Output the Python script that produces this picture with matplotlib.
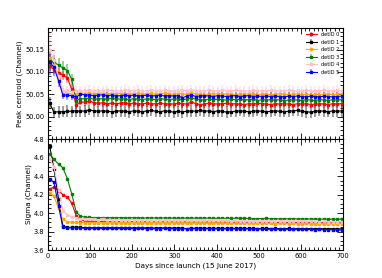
import matplotlib
matplotlib.use('Agg')
import matplotlib.pyplot as plt
from matplotlib.ticker import MultipleLocator, FixedLocator

# time axis (days since launch)
days = [4, 14, 25, 35, 46, 56, 67, 77, 88, 98,
        109, 119, 130, 140, 151, 161, 172, 182, 193, 203,
        214, 224, 235, 245, 256, 266, 277, 287, 298, 308,
        319, 329, 340, 350, 361, 371, 382, 392, 403, 413,
        424, 434, 445, 455, 466, 476, 487, 497, 508, 518,
        529, 539, 550, 560, 571, 581, 592, 602, 613, 623,
        634, 644, 655, 665, 676, 686, 697]

labels = ['detID 0', 'detID 1', 'detID 2', 'detID 3', 'detID 4', 'detID 5']
colors = ['red', 'black', 'orange', 'green', 'pink', 'blue']

# peak centroid
peak0 = [50.113,50.105,50.098,50.093,50.086,50.062,50.026,50.033,50.032,50.035,
         50.031,50.030,50.031,50.029,50.030,50.029,50.030,50.031,50.029,50.030,
         50.028,50.029,50.030,50.028,50.029,50.030,50.028,50.029,50.028,50.030,
         50.029,50.028,50.033,50.029,50.027,50.028,50.030,50.029,50.028,50.029,
         50.030,50.028,50.029,50.028,50.027,50.029,50.028,50.030,50.029,50.028,
         50.027,50.029,50.028,50.029,50.028,50.027,50.029,50.028,50.029,50.027,
         50.028,50.029,50.028,50.027,50.029,50.028,50.029]
peak1 = [50.030,50.010,50.011,50.011,50.012,50.012,50.013,50.012,50.013,50.015,
         50.013,50.012,50.013,50.012,50.011,50.012,50.013,50.012,50.011,50.013,
         50.012,50.011,50.013,50.014,50.012,50.011,50.013,50.012,50.010,50.012,
         50.011,50.012,50.013,50.012,50.014,50.012,50.013,50.011,50.013,50.012,
         50.010,50.011,50.012,50.013,50.012,50.011,50.012,50.013,50.012,50.011,
         50.012,50.013,50.012,50.011,50.012,50.013,50.014,50.012,50.011,50.010,
         50.012,50.013,50.012,50.011,50.013,50.012,50.013]
peak2 = [50.132,50.118,50.085,50.055,50.053,50.050,50.053,50.052,50.053,50.052,
         50.051,50.052,50.053,50.051,50.052,50.051,50.052,50.050,50.052,50.051,
         50.052,50.050,50.051,50.052,50.050,50.051,50.052,50.051,50.050,50.052,
         50.051,50.050,50.054,50.051,50.050,50.049,50.051,50.050,50.051,50.050,
         50.051,50.050,50.049,50.051,50.050,50.051,50.050,50.049,50.051,50.050,
         50.049,50.050,50.051,50.050,50.049,50.050,50.051,50.049,50.050,50.049,
         50.050,50.049,50.050,50.051,50.049,50.050,50.051]
peak3 = [50.124,50.122,50.115,50.109,50.103,50.084,50.036,50.040,50.040,50.041,
         50.039,50.040,50.040,50.039,50.041,50.040,50.039,50.040,50.038,50.040,
         50.039,50.038,50.040,50.039,50.038,50.040,50.039,50.038,50.039,50.040,
         50.038,50.039,50.042,50.039,50.038,50.037,50.039,50.038,50.039,50.038,
         50.037,50.039,50.038,50.039,50.037,50.038,50.039,50.036,50.038,50.037,
         50.038,50.037,50.038,50.036,50.037,50.038,50.037,50.036,50.038,50.037,
         50.036,50.038,50.037,50.036,50.038,50.037,50.038]
peak4 = [50.148,50.126,50.090,50.058,50.057,50.056,50.058,50.057,50.058,50.059,
         50.057,50.058,50.057,50.059,50.058,50.057,50.058,50.059,50.057,50.058,
         50.059,50.057,50.058,50.059,50.058,50.057,50.059,50.058,50.057,50.058,
         50.059,50.058,50.060,50.058,50.057,50.058,50.059,50.058,50.057,50.059,
         50.058,50.057,50.059,50.058,50.057,50.058,50.059,50.058,50.057,50.058,
         50.059,50.058,50.057,50.058,50.059,50.058,50.057,50.058,50.059,50.058,
         50.057,50.058,50.059,50.058,50.057,50.059,50.058]
peak5 = [50.122,50.110,50.080,50.049,50.048,50.047,50.044,50.050,50.049,50.048,
         50.047,50.048,50.049,50.047,50.048,50.046,50.047,50.048,50.047,50.048,
         50.046,50.047,50.048,50.046,50.047,50.048,50.046,50.047,50.046,50.047,
         50.042,50.046,50.049,50.045,50.046,50.047,50.046,50.045,50.047,50.046,
         50.045,50.046,50.047,50.045,50.046,50.047,50.045,50.046,50.045,50.046,
         50.045,50.046,50.045,50.044,50.046,50.045,50.046,50.045,50.044,50.046,
         50.045,50.044,50.046,50.045,50.044,50.045,50.046]

# peak errors
perr0 = [0.012,0.010,0.011,0.010,0.011,0.010,0.009,0.008,0.008,0.009,
         0.008,0.008,0.009,0.008,0.008,0.009,0.008,0.008,0.009,0.008,
         0.008,0.009,0.008,0.008,0.009,0.008,0.008,0.009,0.008,0.008,
         0.009,0.008,0.008,0.009,0.008,0.008,0.009,0.008,0.008,0.009,
         0.008,0.008,0.009,0.008,0.008,0.009,0.008,0.008,0.009,0.008,
         0.008,0.009,0.008,0.008,0.009,0.008,0.008,0.009,0.008,0.008,
         0.009,0.008,0.008,0.009,0.008,0.008,0.009]
perr1 = [0.014,0.012,0.013,0.012,0.013,0.012,0.013,0.012,0.013,0.012,
         0.013,0.012,0.013,0.012,0.013,0.012,0.013,0.012,0.013,0.012,
         0.013,0.012,0.013,0.012,0.013,0.012,0.013,0.012,0.013,0.012,
         0.013,0.012,0.013,0.012,0.013,0.012,0.013,0.012,0.013,0.012,
         0.013,0.012,0.013,0.012,0.013,0.012,0.013,0.012,0.013,0.012,
         0.013,0.012,0.013,0.012,0.013,0.012,0.013,0.012,0.013,0.012,
         0.013,0.012,0.013,0.012,0.013,0.012,0.013]
perr2 = [0.020,0.014,0.012,0.010,0.009,0.009,0.009,0.009,0.009,0.009,
         0.009,0.009,0.009,0.009,0.009,0.009,0.009,0.009,0.009,0.009,
         0.009,0.009,0.009,0.009,0.009,0.009,0.009,0.009,0.009,0.009,
         0.009,0.009,0.009,0.009,0.009,0.009,0.009,0.009,0.009,0.009,
         0.009,0.009,0.009,0.009,0.009,0.009,0.009,0.009,0.009,0.009,
         0.009,0.009,0.009,0.009,0.009,0.009,0.009,0.009,0.009,0.009,
         0.009,0.009,0.009,0.009,0.009,0.009,0.009]
perr3 = [0.016,0.016,0.015,0.015,0.014,0.012,0.009,0.008,0.008,0.008,
         0.008,0.008,0.008,0.008,0.008,0.008,0.008,0.008,0.008,0.008,
         0.008,0.008,0.008,0.008,0.008,0.008,0.008,0.008,0.008,0.008,
         0.008,0.008,0.008,0.008,0.008,0.008,0.008,0.008,0.008,0.008,
         0.008,0.008,0.008,0.008,0.008,0.008,0.008,0.008,0.008,0.008,
         0.008,0.008,0.008,0.008,0.008,0.008,0.008,0.008,0.008,0.008,
         0.008,0.008,0.008,0.008,0.008,0.008,0.008]
perr4 = [0.040,0.028,0.016,0.012,0.011,0.011,0.011,0.011,0.011,0.011,
         0.011,0.011,0.011,0.011,0.011,0.011,0.011,0.011,0.011,0.011,
         0.011,0.011,0.011,0.011,0.011,0.011,0.011,0.011,0.011,0.011,
         0.011,0.011,0.011,0.011,0.011,0.011,0.011,0.011,0.011,0.011,
         0.011,0.011,0.011,0.011,0.011,0.011,0.011,0.011,0.011,0.011,
         0.011,0.011,0.011,0.011,0.011,0.011,0.011,0.011,0.011,0.011,
         0.011,0.011,0.011,0.011,0.011,0.011,0.011]
perr5 = [0.030,0.020,0.013,0.010,0.010,0.010,0.010,0.010,0.010,0.010,
         0.010,0.010,0.010,0.010,0.010,0.010,0.010,0.010,0.010,0.010,
         0.010,0.010,0.010,0.010,0.010,0.010,0.010,0.010,0.010,0.010,
         0.010,0.010,0.010,0.010,0.010,0.010,0.010,0.010,0.010,0.010,
         0.010,0.010,0.010,0.010,0.010,0.010,0.010,0.010,0.010,0.010,
         0.010,0.010,0.010,0.010,0.010,0.010,0.010,0.010,0.010,0.010,
         0.010,0.010,0.010,0.010,0.010,0.010,0.010]

# sigma
sig0 = [4.26,4.28,4.24,4.20,4.17,4.11,3.97,3.925,3.915,3.912,
        3.910,3.908,3.909,3.907,3.908,3.906,3.907,3.905,3.906,3.907,
        3.905,3.904,3.906,3.905,3.903,3.904,3.905,3.903,3.904,3.902,
        3.903,3.904,3.902,3.903,3.901,3.902,3.903,3.901,3.902,3.900,
        3.901,3.899,3.900,3.901,3.899,3.900,3.898,3.899,3.897,3.898,
        3.899,3.897,3.898,3.896,3.897,3.898,3.896,3.897,3.895,3.896,
        3.897,3.895,3.896,3.894,3.895,3.896,3.894]
sig1 = [4.72,4.48,4.15,3.86,3.845,3.845,3.848,3.845,3.842,3.843,
        3.840,3.842,3.841,3.840,3.842,3.839,3.840,3.841,3.839,3.840,
        3.838,3.839,3.840,3.838,3.837,3.839,3.838,3.837,3.838,3.836,
        3.837,3.830,3.836,3.835,3.837,3.836,3.835,3.834,3.836,3.835,
        3.834,3.835,3.833,3.834,3.835,3.833,3.834,3.832,3.833,3.834,
        3.832,3.833,3.831,3.832,3.833,3.831,3.832,3.830,3.831,3.832,
        3.830,3.831,3.829,3.830,3.831,3.829,3.828]
sig2 = [4.22,4.18,4.05,3.93,3.905,3.900,3.898,3.897,3.896,3.897,
        3.895,3.896,3.894,3.895,3.896,3.894,3.893,3.895,3.894,3.893,
        3.894,3.892,3.893,3.894,3.892,3.893,3.891,3.892,3.893,3.891,
        3.892,3.890,3.891,3.892,3.890,3.891,3.889,3.890,3.891,3.889,
        3.890,3.888,3.889,3.890,3.888,3.889,3.887,3.888,3.889,3.887,
        3.888,3.886,3.887,3.888,3.886,3.887,3.885,3.886,3.887,3.885,
        3.886,3.884,3.885,3.886,3.884,3.885,3.884]
sig3 = [4.64,4.58,4.53,4.49,4.37,4.21,4.01,3.965,3.955,3.952,
        3.950,3.951,3.949,3.950,3.948,3.949,3.950,3.948,3.947,3.949,
        3.948,3.946,3.947,3.948,3.946,3.945,3.947,3.946,3.945,3.944,
        3.946,3.945,3.944,3.945,3.943,3.944,3.945,3.943,3.942,3.944,
        3.943,3.942,3.943,3.944,3.942,3.941,3.935,3.940,3.939,3.941,
        3.938,3.939,3.937,3.938,3.937,3.939,3.936,3.937,3.935,3.936,
        3.935,3.934,3.935,3.933,3.934,3.932,3.933]
sig4 = [4.58,4.50,4.25,4.02,3.98,3.960,3.948,3.940,3.935,3.932,
        3.930,3.929,3.930,3.928,3.929,3.927,3.928,3.926,3.927,3.928,
        3.926,3.925,3.926,3.924,3.925,3.923,3.924,3.925,3.923,3.922,
        3.923,3.921,3.922,3.923,3.921,3.920,3.921,3.919,3.920,3.921,
        3.919,3.918,3.919,3.917,3.918,3.916,3.917,3.915,3.916,3.914,
        3.915,3.913,3.914,3.912,3.913,3.911,3.912,3.910,3.911,3.909,
        3.910,3.908,3.909,3.907,3.908,3.906,3.907]
sig5 = [4.37,4.33,4.08,3.850,3.838,3.840,3.842,3.838,3.836,3.837,
        3.835,3.836,3.834,3.835,3.833,3.834,3.835,3.833,3.834,3.832,
        3.833,3.834,3.832,3.833,3.831,3.832,3.833,3.831,3.832,3.830,
        3.831,3.832,3.830,3.831,3.829,3.830,3.831,3.829,3.830,3.828,
        3.829,3.830,3.828,3.829,3.827,3.828,3.829,3.827,3.826,3.822,
        3.825,3.826,3.824,3.825,3.823,3.824,3.825,3.823,3.822,3.823,
        3.821,3.822,3.820,3.821,3.819,3.818,3.814]

peaks = [peak0, peak1, peak2, peak3, peak4, peak5]
perrs = [perr0, perr1, perr2, perr3, perr4, perr5]
sigmas = [sig0, sig1, sig2, sig3, sig4, sig5]

plt.rcParams['font.family'] = 'DejaVu Sans'
fig = plt.figure(figsize=(3.82, 2.78), dpi=100)
ax1 = fig.add_axes([0.1257, 0.5, 0.7723, 0.399])
ax2 = fig.add_axes([0.1257, 0.1007, 0.7723, 0.3993], sharex=ax1)

for i in range(6):
    eb = ax1.errorbar(days, peaks[i], yerr=perrs[i], fmt='-s', color=colors[i],
                      ms=1.6, lw=0.8, elinewidth=1.2, capsize=0, label=labels[i])
    eb[2][0].set_alpha(0.45)
    ax2.plot(days, sigmas[i], '-s', color=colors[i], ms=1.5, lw=0.8)

ax1.set_xlim(0, 700)
ax1.set_ylim(49.95, 50.198)
ax1.yaxis.set_major_locator(FixedLocator([50.00, 50.05, 50.10, 50.15]))
ax1.yaxis.set_minor_locator(MultipleLocator(0.01))
ax1.yaxis.set_major_formatter(matplotlib.ticker.FormatStrFormatter('%.2f'))
ax2.set_ylim(3.6, 4.8)
ax2.yaxis.set_major_locator(MultipleLocator(0.2))
ax2.yaxis.set_minor_locator(MultipleLocator(0.05))
ax2.xaxis.set_major_locator(MultipleLocator(100))
ax2.xaxis.set_minor_locator(MultipleLocator(10))

for ax in (ax1, ax2):
    ax.tick_params(which='both', direction='in', top=True, right=True, labelsize=4.8, width=0.6, pad=2.5)
    ax.tick_params(which='major', length=4)
    ax.tick_params(which='minor', length=2)
    for s in ax.spines.values():
        s.set_linewidth(0.8)
plt.setp(ax1.get_xticklabels(), visible=False)

ax1.set_ylabel('Peak centroid (Channel)', fontsize=5.2, labelpad=1.5)
ax2.set_ylabel('Sigma (Channel)', fontsize=5.2, labelpad=1.5)
ax2.set_xlabel('Days since launch (15 June 2017)', fontsize=5.2, labelpad=2)

ax1.legend(loc='upper right', frameon=False, fontsize=3.6, handlelength=2.2,
           labelspacing=0.5, borderaxespad=0.4)

fig.savefig('out.png', dpi=100)
